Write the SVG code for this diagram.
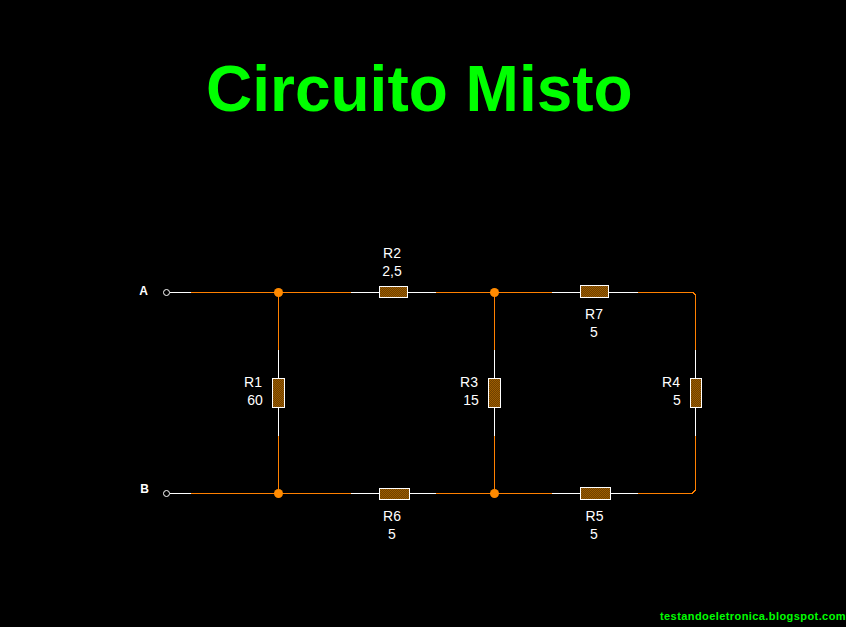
<svg xmlns="http://www.w3.org/2000/svg" width="846" height="627" viewBox="0 0 846 627">
<style>
text{font-family:"Liberation Sans",Arial,sans-serif}
.title{font-size:64px;font-weight:700;fill:#0f0}
.foot{font-size:11px;font-weight:700;fill:#0f0;letter-spacing:.42px}
.lbl{font-size:14px;fill:#fff;text-anchor:middle}
.term{font-size:12px;font-weight:700;fill:#fff;text-anchor:middle}
.w{stroke:#fff;stroke-width:1;fill:none;shape-rendering:crispEdges}
.o{stroke:#ff8000;stroke-width:1;fill:none;shape-rendering:crispEdges}
.r{fill:url(#dither);stroke:#fff;stroke-width:1;shape-rendering:crispEdges}
.j{fill:#ff8a00}
.t{fill:#000;stroke:#fff;stroke-width:1}
</style>
<defs>
<pattern id="dither" width="2" height="2" patternUnits="userSpaceOnUse">
<rect width="2" height="2" fill="#6e4000"/>
<rect width="1" height="1" fill="#9c5c00"/>
<rect x="1" y="1" width="1" height="1" fill="#9c5c00"/>
</pattern>
</defs>
<rect width="846" height="627" fill="#000"/>
<text class="title" x="206" y="111">Circuito Misto</text>
<g id="connectors">
<path class="w" d="M170 292.5H191M351 292.5H379M408 292.5H436M552 292.5H580M609 292.5H638"/>
<path class="w" d="M170 493.5H191M351 493.5H379M410 493.5H436M552 493.5H580M611 493.5H638"/>
<path class="w" d="M278.500 350V378M278.500 408V436M494.500 350V378M494.500 408V436M695.500 350V378M695.500 408V436"/>
<path class="o" d="M191 292.500H351M436 292.500H552M638 292.500H692.500"/>
<path class="o" d="M191 493.500H351M436 493.500H552M638 493.500H692.500"/>
<path class="o" d="M278.500 292.500V350M278.500 436V493.500M494.500 292.500V350M494.500 436V493.500"/>
<path class="o" d="M692 292.500H693.500V293.500H694.500V294.500H695.500V350M695.500 436V490.500H694.500V491.500H693.500V492.500H692"/>
</g>
<g id="A"><circle class="t" cx="166.500" cy="292.500" r="3"/><text class="term" x="143.500" y="294.500">A</text></g>
<g id="B"><circle class="t" cx="166.500" cy="493.500" r="3"/><text class="term" x="144.500" y="493">B</text></g>
<g id="J1"><circle class="j" cx="278.500" cy="292.500" r="4.500"/></g>
<g id="J2"><circle class="j" cx="494.500" cy="292.500" r="4.500"/></g>
<g id="J3"><circle class="j" cx="278.500" cy="493.500" r="4.500"/></g>
<g id="J4"><circle class="j" cx="494.500" cy="493.500" r="4.500"/></g>
<g id="R1"><rect class="r" x="272.500" y="378.500" width="12" height="29"/><text class="lbl" x="253" y="387">R1</text><text class="lbl" x="255" y="405">60</text></g>
<g id="R2"><rect class="r" x="379.500" y="286.500" width="28" height="11"/><text class="lbl" x="392" y="258">R2</text><text class="lbl" x="392" y="276">2,5</text></g>
<g id="R3"><rect class="r" x="488.500" y="378.500" width="12" height="29"/><text class="lbl" x="469" y="387">R3</text><text class="lbl" x="471" y="405">15</text></g>
<g id="R4"><rect class="r" x="690.500" y="378.500" width="11" height="29"/><text class="lbl" x="671" y="387">R4</text><text class="lbl" x="677" y="405">5</text></g>
<g id="R5"><rect class="r" x="580.500" y="487.500" width="30" height="12"/><text class="lbl" x="594.500" y="521">R5</text><text class="lbl" x="594" y="539">5</text></g>
<g id="R6"><rect class="r" x="379.500" y="488.500" width="30" height="11"/><text class="lbl" x="392" y="521">R6</text><text class="lbl" x="392" y="539">5</text></g>
<g id="R7"><rect class="r" x="580.500" y="285.500" width="28" height="12"/><text class="lbl" x="594" y="319">R7</text><text class="lbl" x="594" y="337">5</text></g>
<text class="foot" x="660" y="620">testandoeletronica.blogspot.com</text>
</svg>
